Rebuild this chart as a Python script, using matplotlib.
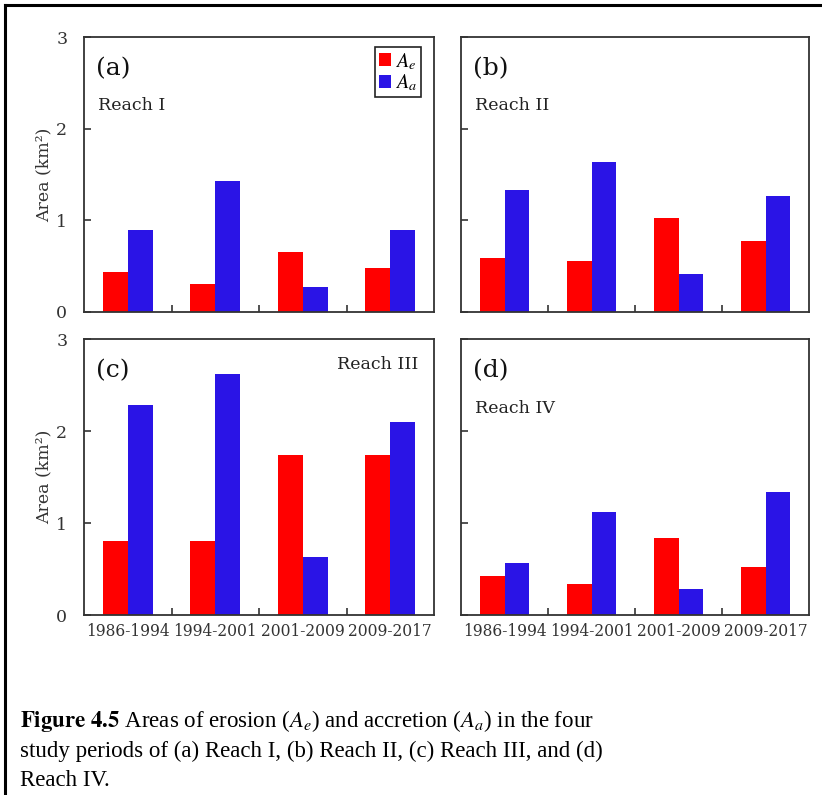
import numpy as np
import matplotlib
matplotlib.use("Agg")
import matplotlib.pyplot as plt
from matplotlib.lines import Line2D

plt.rcParams['mathtext.fontset'] = 'stix'

periods = ["1986-1994", "1994-2001", "2001-2009", "2009-2017"]

# erosion (Ae) and accretion (Aa), km^2
ae_r1 = [0.44, 0.31, 0.65, 0.48]
aa_r1 = [0.89, 1.43, 0.27, 0.90]
ae_r2 = [0.59, 0.56, 1.03, 0.78]
aa_r2 = [1.33, 1.64, 0.41, 1.27]
ae_r3 = [0.80, 0.80, 1.74, 1.74]
aa_r3 = [2.28, 2.62, 0.63, 2.10]
ae_r4 = [0.42, 0.34, 0.84, 0.52]
aa_r4 = [0.56, 1.12, 0.28, 1.34]

panel_tags = ["(a)", "(b)", "(c)", "(d)"]
reach_names = ["Reach I", "Reach II", "Reach III", "Reach IV"]

RED = "#ff0000"
BLUE = "#2a14e6"
GRAY = "#333333"
SERIF = "DejaVu Serif"

W, H = 822, 795
fig = plt.figure(figsize=(W / 100, H / 100), dpi=100)

def box(l, t, r, b):
    return [l / W, 1 - b / H, (r - l) / W, (b - t) / H]

axes = [fig.add_axes(box(84, 37, 434, 312)),
        fig.add_axes(box(461, 37, 809, 312)),
        fig.add_axes(box(84, 339, 434, 615)),
        fig.add_axes(box(461, 339, 809, 615))]
data = [(ae_r1, aa_r1), (ae_r2, aa_r2), (ae_r3, aa_r3), (ae_r4, aa_r4)]

x = np.arange(len(periods))
bw = 0.286
for i, ax in enumerate(axes):
    ae, aa = data[i]
    ax.bar(x - bw / 2, ae, bw, color=RED, label="$A_e$")
    ax.bar(x + bw / 2, aa, bw, color=BLUE, label="$A_a$")
    ax.set_xlim(-0.5, 3.5)
    ax.set_ylim(0, 3)
    ax.set_yticks([0, 1, 2, 3])
    ax.set_xticks(x)
    ax.set_xticks([0.5, 1.5, 2.5], minor=True)
    ax.tick_params(axis='x', which='major', length=0, pad=6)
    ax.tick_params(axis='x', which='minor', direction='in', length=5, width=1.2, color=GRAY)
    ax.tick_params(axis='y', direction='in', length=5, width=1.2, color=GRAY, pad=12)
    for s in ax.spines.values():
        s.set_linewidth(1.3)
        s.set_color(GRAY)
    if i < 2:
        ax.set_xticklabels([])
    else:
        ax.set_xticklabels(periods, fontsize=11.2, family=SERIF, color=GRAY)
    if i % 2 == 1:
        ax.set_yticklabels([])
    else:
        ax.set_yticklabels(["0", "1", "2", "3"], fontsize=12.5, family=SERIF, color=GRAY)
        ax.set_ylabel("Area (km²)", fontsize=12.5, family=SERIF, color=GRAY, labelpad=3)

    ax.text(0.035, 0.885, panel_tags[i], transform=ax.transAxes, fontsize=18,
            family=SERIF, va='center', ha='left', color='#111111')
    if i == 2:
        ax.text(0.955, 0.906, reach_names[i], transform=ax.transAxes, fontsize=12.5,
                family=SERIF, va='center', ha='right', color='#222222')
    else:
        ax.text(0.04, 0.75, reach_names[i], transform=ax.transAxes, fontsize=12.5,
                family=SERIF, va='center', ha='left', color='#222222')

leg = axes[0].legend(loc='upper right', bbox_to_anchor=(0.963, 0.964), borderaxespad=0,
                     fontsize=14.5, handlelength=0.6, handleheight=0.6, handletextpad=0.2,
                     labelspacing=0.05, borderpad=0.2, fancybox=False, framealpha=1)
leg.get_frame().set_edgecolor('#222222')
leg.get_frame().set_linewidth(1.2)

# outer frame of the figure box
fig.add_artist(Line2D([5 / W, 5 / W], [0, 1 - 5 / H], color='black', lw=2.2))
fig.add_artist(Line2D([5 / W, 1], [1 - 5 / H, 1 - 5 / H], color='black', lw=2.2))

cap = dict(fontsize=16.5, family='Liberation Serif', ha='left', va='baseline')
fig.text(20 / W, 1 - 727 / H,
         r"$\mathbf{Figure\ 4.5}$ Areas of erosion ($A_e$) and accretion ($A_a$) in the four", **cap)
fig.text(20 / W, 1 - 757 / H,
         "study periods of (a) Reach I, (b) Reach II, (c) Reach III, and (d)", **cap)
fig.text(20 / W, 1 - 786 / H, "Reach IV.", **cap)

fig.savefig("out.png", dpi=100)
